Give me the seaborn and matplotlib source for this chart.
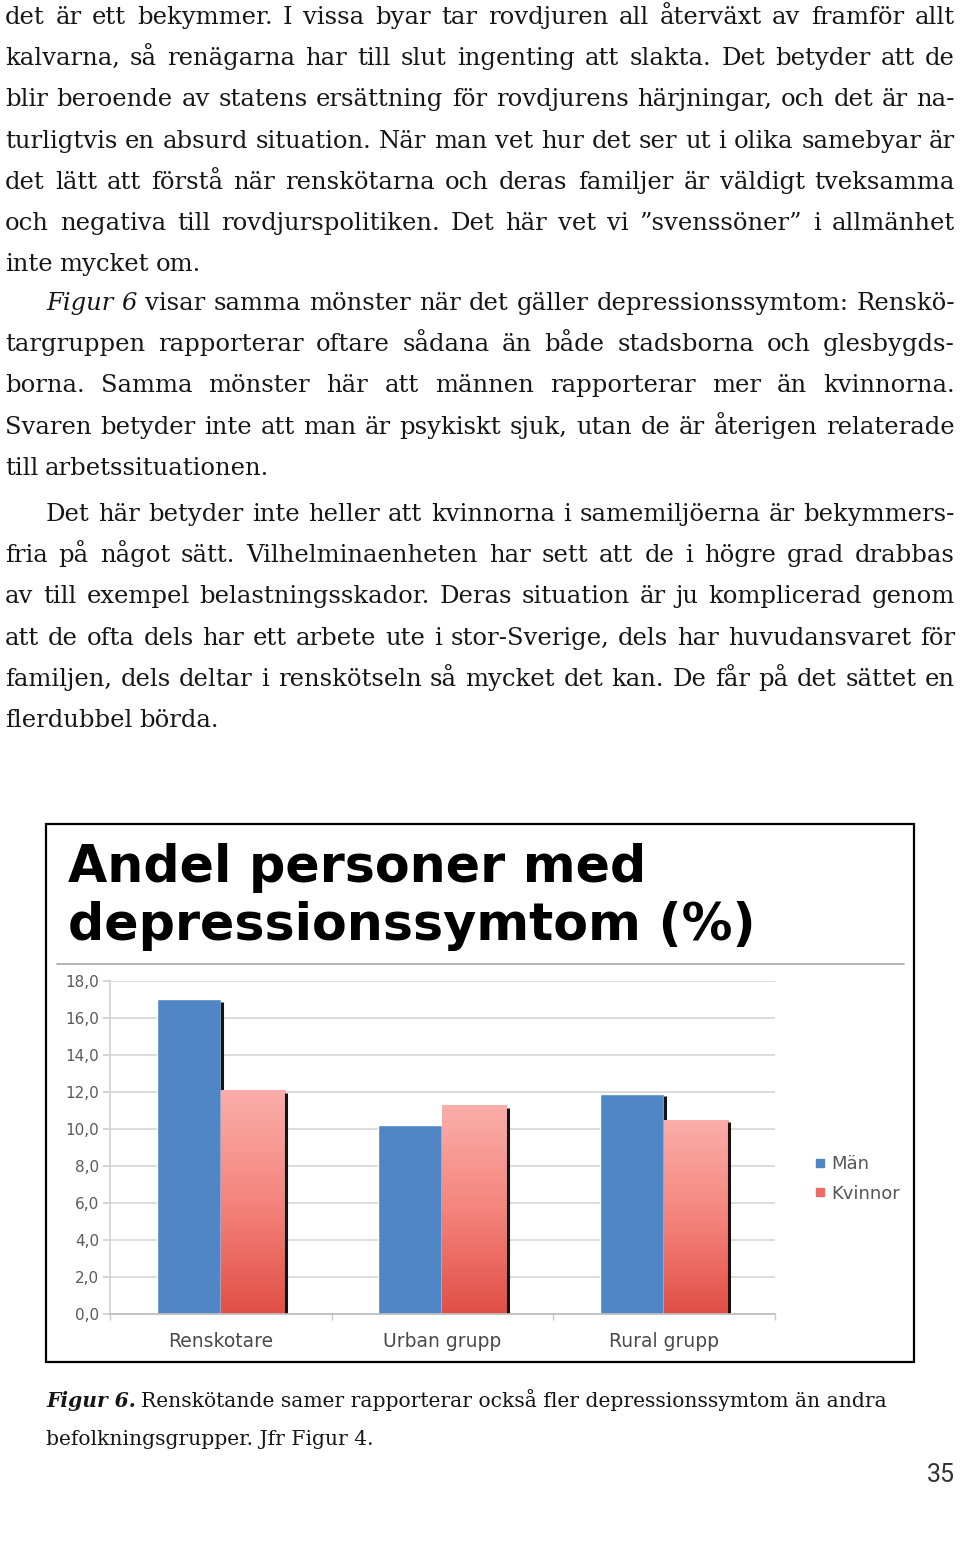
import numpy as np
import pandas as pd
import seaborn as sns
import matplotlib.pyplot as plt
from matplotlib.colors import LinearSegmentedColormap
from matplotlib.lines import Line2D
from matplotlib.patches import Rectangle
from matplotlib.transforms import IdentityTransform

W, H = 960, 1543

# chart data
categories = ["Renskotare", "Urban grupp", "Rural grupp"]
series = ["Män", "Kvinnor"]
man_values = [17.0, 10.2, 11.9]
kvinnor_values = [12.1, 11.3, 10.5]
y_ticks = [0, 2, 4, 6, 8, 10, 12, 14, 16, 18]
y_tick_labels = ["0,0", "2,0", "4,0", "6,0", "8,0", "10,0", "12,0", "14,0", "16,0", "18,0"]
chart_title = ["Andel personer med", "depressionssymtom (%)"]

# page text (_word_ = italic)
para1 = [
    "det är ett bekymmer. I vissa byar tar rovdjuren all återväxt av framför allt",
    "kalvarna, så renägarna har till slut ingenting att slakta. Det betyder att de",
    "blir beroende av statens ersättning för rovdjurens härjningar, och det är na-",
    "turligtvis en absurd situation. När man vet hur det ser ut i olika samebyar är",
    "det lätt att förstå när renskötarna och deras familjer är väldigt tveksamma",
    "och negativa till rovdjurspolitiken. Det här vet vi ”svenssöner” i allmänhet",
    "inte mycket om.",
]
para2 = [
    "_Figur_ _6_ visar samma mönster när det gäller depressionssymtom: Renskö-",
    "targruppen rapporterar oftare sådana än både stadsborna och glesbygds-",
    "borna. Samma mönster här att männen rapporterar mer än kvinnorna.",
    "Svaren betyder inte att man är psykiskt sjuk, utan de är återigen relaterade",
    "till arbetssituationen.",
]
para3 = [
    "Det här betyder inte heller att kvinnorna i samemiljöerna är bekymmers-",
    "fria på något sätt. Vilhelminaenheten har sett att de i högre grad drabbas",
    "av till exempel belastningsskador. Deras situation är ju komplicerad genom",
    "att de ofta dels har ett arbete ute i stor-Sverige, dels har huvudansvaret för",
    "familjen, dels deltar i renskötseln så mycket det kan. De får på det sättet en",
    "flerdubbel börda.",
]
caption_lead = "Figur 6."
caption_lines = [
    "Renskötande samer rapporterar också fler depressionssymtom än andra",
    "befolkningsgrupper. Jfr Figur 4.",
]
page_no = "35"

BLUE = "#5086c5"
RED_TOP = "#fbaeaa"
RED_BOTTOM = "#e14f45"
INK = "#161616"
SERIF = "DejaVu Serif"

sns.set_theme(style="white")
plt.rcParams["font.family"] = ["DejaVu Sans"]

fig = plt.figure(figsize=(W / 100, H / 100), dpi=100)
fig.patch.set_facecolor("white")
renderer = fig.canvas.get_renderer()
px = IdentityTransform()


def set_line(line, x0, x1, base, size, justify):
    # one line of text, word by word, justified between x0 and x1
    words = []
    for w in line.split(" "):
        style = "normal"
        if w.startswith("_") and w.endswith("_"):
            w, style = w[1:-1], "italic"
        words.append((w, style))

    def build(sz):
        arts = [fig.text(0, 0, w, transform=px, fontsize=sz, fontstyle=st, family=SERIF,
                         va="baseline", color=INK) for w, st in words]
        return arts, [a.get_window_extent(renderer).width for a in arts]

    arts, widths = build(size)
    min_space = size * 100 / 72 * 0.17
    need = sum(widths) + min_space * (len(arts) - 1)
    if need > x1 - x0:
        # line too long for this face: shrink it a little
        for a in arts:
            a.remove()
        size = size * (x1 - x0) / need
        arts, widths = build(size)
    space = size * 100 / 72 * 0.28
    if justify and len(arts) > 1:
        space = (x1 - x0 - sum(widths)) / (len(arts) - 1)
    x = x0
    for a, w in zip(arts, widths):
        a.set_position((x, H - base))
        x += w + space


##
# body text
body_size = 17.5
for lines, first_base, indent in ((para1, 24, 5), (para2, 310, 46), (para3, 521, 46)):
    for i, line in enumerate(lines):
        x0 = indent if i == 0 else 5
        set_line(line, x0, 955, first_base + i * 41.2, body_size, i < len(lines) - 1)

##
# chart frame + title
fig.patches.append(Rectangle((45.5 / W, 1 - 1362 / H), (914 - 45.5) / W, (1362 - 823.5) / H,
                             transform=fig.transFigure, fill=False, ec="black", lw=1.6))
fig.add_artist(Line2D([57 / W, 904 / W], [1 - 964 / H, 1 - 964 / H], color="#a8a8a8", lw=1.2))
for line, base in zip(chart_title, (882, 940)):
    fig.text(68 / W, 1 - base / H, line, fontsize=36.5, fontweight="bold",
             family="DejaVu Sans", va="baseline", color="black")

##
# bar chart
df = pd.DataFrame({
    "grupp": categories * 2,
    "kon": [series[0]] * 3 + [series[1]] * 3,
    "andel": man_values + kvinnor_values,
})
ax = fig.add_axes([110 / W, 1 - 1313.5 / H, 664.5 / W, 332.5 / H])
sns.barplot(data=df, x="grupp", y="andel", hue="kon", hue_order=series,
            palette=[BLUE, RED_BOTTOM], width=0.578, gap=0, saturation=1,
            errorbar=None, legend=False, ax=ax, zorder=2)
ax.set_xlim(-0.5, 2.5)
ax.set_ylim(0, 18)

# vertical gradient on the Kvinnor bars
grad = np.linspace(0, 1, 256).reshape(-1, 1)
cmap = LinearSegmentedColormap.from_list("kv", [RED_BOTTOM, "#f4847c", RED_TOP])
for bar in ax.containers[1]:
    x0, w, h = bar.get_x(), bar.get_width(), bar.get_height()
    im = ax.imshow(grad, extent=[x0, x0 + w, 0, h], origin="lower", aspect="auto",
                   cmap=cmap, zorder=2.1)
    im.set_clip_path(bar)

# dark right-hand edge on each bar
for cont, z in ((ax.containers[0], 2.05), (ax.containers[1], 2.2)):
    for bar in cont:
        xr = bar.get_x() + bar.get_width() + 0.006
        ax.plot([xr, xr], [0, bar.get_height() - 0.15], color="#141414", lw=2.2,
                zorder=z, solid_capstyle="butt")
ax.set_xlim(-0.5, 2.5)
ax.set_ylim(0, 18)

ax.set_yticks(y_ticks, y_tick_labels)
ax.set_xticks([-0.5, 0.5, 1.5, 2.5], minor=True)
ax.tick_params(axis="y", left=True, length=5, color="#cfcfcf", labelsize=11,
               labelcolor="#5a5a5a", pad=3)
ax.tick_params(axis="x", which="major", bottom=False, labelsize=13.5,
               labelcolor="#4a4a4a", pad=7)
ax.tick_params(axis="x", which="minor", bottom=True, length=4, color="#c8c8c8")
ax.yaxis.grid(True, color="#d9d9d9", lw=1.3)
ax.set_axisbelow(True)
for s in ("top", "right"):
    ax.spines[s].set_visible(False)
ax.spines["left"].set_color("#d4d4d4")
ax.spines["bottom"].set_color("#bdbdbd")
ax.set_xlabel("")
ax.set_ylabel("")

handles = [Line2D([], [], marker="s", ls="", color=c, markersize=6) for c in (BLUE, "#ee6a62")]
fig.legend(handles, series, loc="upper left", bbox_to_anchor=(806 / W, 1 - 1146 / H),
           frameon=False, fontsize=13, labelcolor="#555555", handlelength=0.6,
           handletextpad=0.3, labelspacing=0.65, borderpad=0)

##
# caption + page number
cap_size = 14.6
lead = fig.text(46, H - 1407, caption_lead, transform=px, fontsize=cap_size, family=SERIF,
                fontweight="bold", fontstyle="italic", va="baseline", color=INK)
lead_w = lead.get_window_extent(renderer).width
fig.text(46 + lead_w + cap_size * 100 / 72 * 0.28, H - 1407, caption_lines[0], transform=px,
         fontsize=cap_size, family=SERIF, va="baseline", color=INK)
fig.text(46, H - 1445, caption_lines[1], transform=px, fontsize=cap_size, family=SERIF,
         va="baseline", color=INK)
fig.text(955, H - 1482, page_no, transform=px, fontsize=18, family="Roboto",
         ha="right", va="baseline", color="#333333")

fig.savefig("out.png", dpi=100, facecolor="white")
